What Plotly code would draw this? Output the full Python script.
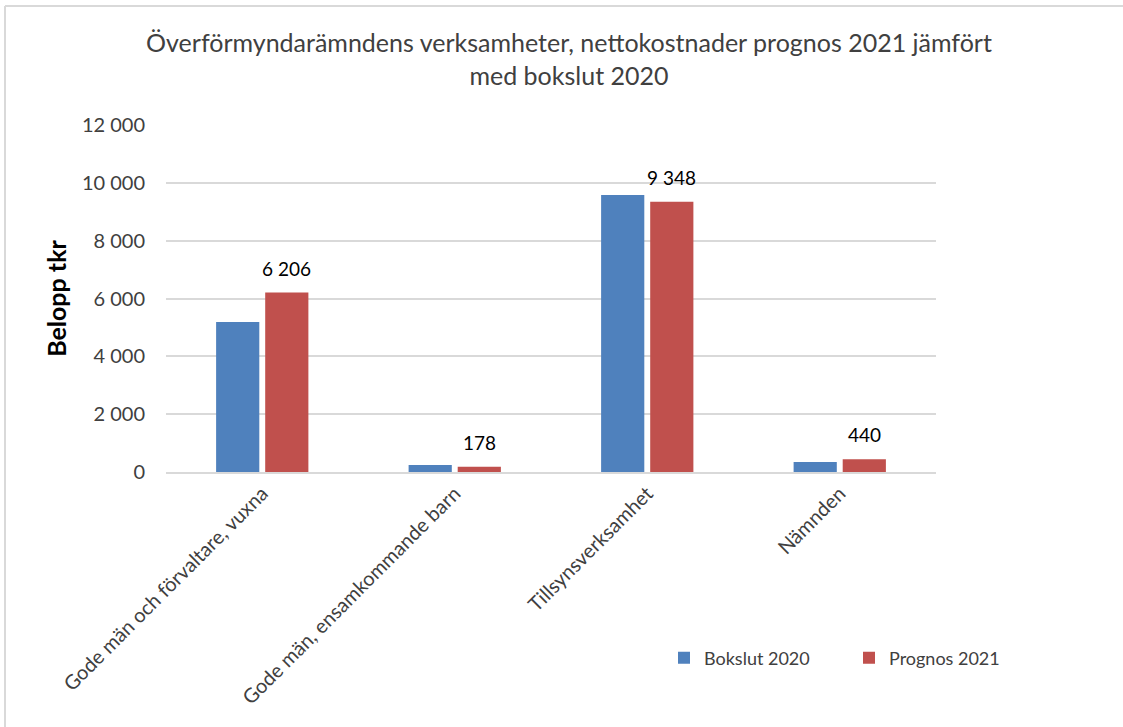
import plotly.graph_objects as go

categories = ["Gode män och förvaltare, vuxna", "Gode män, ensamkommande barn",
              "Tillsynsverksamhet", "Nämnden"]
bokslut_2020 = [5190, 240, 9580, 345]
prognos_2021 = [6206, 178, 9348, 440]
prognos_labels = ["6 206", "178", "9 348", "440"]
tick_vals = [0, 2000, 4000, 6000, 8000, 10000, 12000]
tick_text = ["0", "2 000", "4 000", "6 000", "8 000", "10 000", "12 000"]

FONT = "Lato, 'Open Sans', sans-serif"
W, H = 1123, 727
L, R, T, B = 166, 936, 125, 472
BARGAP = 0.49

def px_x(p):
    return (p - L) / (R - L)

def px_y(p):
    return (B - p) / (B - T)

fig = go.Figure()
fig.add_trace(go.Bar(x=categories, y=bokslut_2020, name="Bokslut 2020",
                     marker=dict(color="#4F81BD", line=dict(width=0))))
fig.add_trace(go.Bar(x=categories, y=prognos_2021, name="Prognos 2021",
                     marker=dict(color="#C0504D", line=dict(width=0))))

# data labels above the Prognos 2021 bars
cat_px = (R - L) / len(categories)
slot_px = cat_px * (1 - BARGAP) / 2
for c, v, lab in zip(categories, prognos_2021, prognos_labels):
    fig.add_annotation(x=c, y=v, text=lab, showarrow=False, xref="x", yref="y",
                       xshift=slot_px / 2, yanchor="bottom", yshift=11,
                       font=dict(family=FONT, size=19, color="#000000"))

fig.update_layout(
    width=W, height=H,
    margin=dict(l=L, r=W - R, t=T, b=H - B, autoexpand=False),
    paper_bgcolor="white", plot_bgcolor="white",
    barmode="group", bargap=BARGAP, bargroupgap=0.12,
    title=dict(text="Överförmyndarämndens verksamheter, nettokostnader prognos 2021 jämfört<br>med bokslut 2020",
               x=px_x(569), xref="paper", xanchor="center", y=1 - 52 / H, yanchor="middle",
               font=dict(family=FONT, size=25, color="#404040")),
    font=dict(family=FONT, color="#404040"),
    showlegend=True,
    legend=dict(orientation="h", x=px_x(664), y=px_y(658), xanchor="left", yanchor="middle",
                font=dict(family=FONT, size=18, color="#404040"),
                itemwidth=30, traceorder="normal", entrywidth=140),
    xaxis=dict(tickangle=-45, showline=True, linecolor="#D9D9D9", linewidth=2,
               tickfont=dict(family=FONT, size=20, color="#404040"), ticks=""),
    yaxis=dict(range=[0, 12000], tickvals=tick_vals, ticktext=tick_text,
               showgrid=True, gridcolor="#D9D9D9", gridwidth=1.5, zeroline=False,
               tickfont=dict(family=FONT, size=20, color="#404040"),
               ticks="", ticklabelstandoff=20,
               title=dict(text="<b>Belopp tkr</b>", standoff=8,
                          font=dict(family=FONT, size=25, color="#000000"))),
    shapes=[
        dict(type="line", xref="paper", yref="paper", x0=px_x(5), x1=px_x(5),
             y0=px_y(6), y1=px_y(727), line=dict(color="#D9D9D9", width=2)),
        dict(type="line", xref="paper", yref="paper", x0=px_x(5), x1=px_x(1123),
             y0=px_y(6), y1=px_y(6), line=dict(color="#D9D9D9", width=2)),
    ],
)

fig.write_html("out.html", config={"displayModeBar": False},
               post_script="document.body.style.margin='0';document.body.style.overflow='hidden';")
